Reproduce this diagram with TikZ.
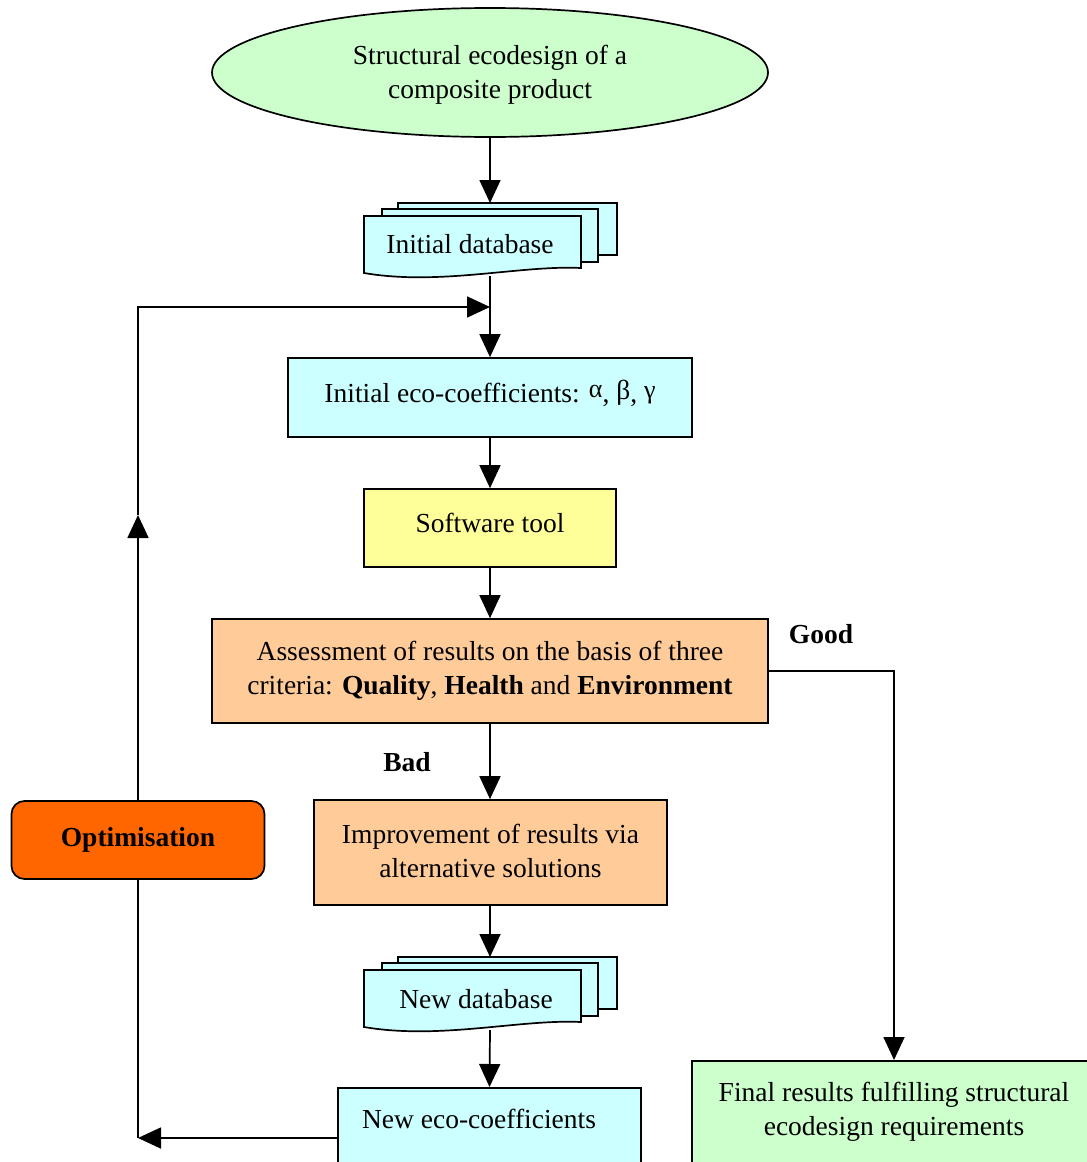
\documentclass[tikz,border=0pt]{standalone}
\usepackage{fontspec}
\setmainfont{Liberation Serif}
\usetikzlibrary{arrows.meta,shapes.geometric}
\definecolor{cgreen}{HTML}{CCFFCC}
\definecolor{ccyan}{HTML}{CCFFFF}
\definecolor{cyellow}{HTML}{FFFF99}
\definecolor{cpeach}{HTML}{FFCC99}
\definecolor{corange}{HTML}{FF6600}
\tikzset{
  every node/.style={font=\fontsize{27.5}{34}\selectfont, inner sep=0pt},
  outl/.style={draw=black, line width=1.7pt},
  boxn/.style={outl, rectangle, align=center},
  arr/.style={-{Triangle[length=23pt,width=21pt]}, line width=1.7pt},
  ln/.style={line width=1.7pt},
  lbl/.style={font=\fontsize{27.5}{34}\selectfont\bfseries}
}
\begin{document}
\begin{tikzpicture}[x=1pt,y=-1pt]
\useasboundingbox (0,0) rectangle (1087,1162);
\clip (0,0) rectangle (1087,1162);

% start ellipse
\node[outl, ellipse, fill=cgreen, minimum width=556, minimum height=129] (start) at (490,72.5) {};
\node[align=center] (starttext) at (490,75) {Structural ecodesign of a\\composite product};

% Initial database (multi-document)
\filldraw[outl, fill=ccyan] (398,203) rectangle (617,255);
\filldraw[outl, fill=ccyan] (382,209) rectangle (598,262);
\filldraw[outl, fill=ccyan] (364,216) -- (581,216) -- (581,268)
  .. controls (520,265) and (440,286) .. (364,273) -- cycle;
\node (idb) at (470,244) {Initial database};
\coordinate (idbtop) at (490,203);
\coordinate (idbbot) at (490,276);

% Initial eco-coefficients
\node[boxn, fill=ccyan, minimum width=404, minimum height=79] (ieco) at (490,397.5) {};
\node (iecotext) at (490,393)
  {Initial eco-coefficients: \raisebox{5pt}{\fontsize{26}{28}\selectfont α}, \raisebox{3pt}{β}, \raisebox{4pt}{\fontsize{26}{28}\selectfont γ}};

% Software tool
\node[boxn, fill=cyellow, minimum width=252, minimum height=78] (soft) at (490,528) {};
\node (softtext) at (490,523) {Software tool};

% Assessment
\node[boxn, fill=cpeach, minimum width=556, minimum height=104] (assess) at (490,671)
  {Assessment of results on the basis of three\\criteria: \textbf{Quality}, \textbf{Health} and \textbf{Environment}};

% Improvement
\node[boxn, fill=cpeach, minimum width=353, minimum height=105] (impr) at (490.5,852.5) {};
\node[align=center] (imprtext) at (490.5,851)
  {Improvement of results via\\alternative solutions};

% New database (multi-document)
\filldraw[outl, fill=ccyan] (398,957) rectangle (617,1009);
\filldraw[outl, fill=ccyan] (382,963) rectangle (598,1016);
\filldraw[outl, fill=ccyan] (364,970) -- (581,970) -- (581,1022)
  .. controls (520,1019) and (440,1040) .. (364,1027) -- cycle;
\node (ndb) at (476,999) {New database};
\coordinate (ndbtop) at (490,957);
\coordinate (ndbbot) at (490,1030);

% New eco-coefficients (cut off at bottom)
\node[boxn, fill=ccyan, minimum width=303, minimum height=90, anchor=north] (neco) at (489.5,1087) {};
\node (necotext) at (479,1119) {New eco-coefficients};
\coordinate (necoL) at (338,1138);

% Final results (cut off)
\node[boxn, fill=cgreen, minimum width=404, minimum height=102, anchor=north] (final) at (894,1060)
  {Final results fulfilling structural\\ecodesign requirements};

% Optimisation
\node[boxn, fill=corange, rounded corners=13pt, minimum width=253, minimum height=78, font=\fontsize{27.5}{34}\selectfont\bfseries] (opt) at (138,840) {Optimisation};

% labels
\node[lbl] (good) at (821,634) {Good};
\node[lbl] (bad) at (407,762) {Bad};

% coordinates for loop
\coordinate (join) at (490,307);
\coordinate (uptip) at (138,515);
\coordinate (topcorner) at (138,307);
\coordinate (botcorner) at (138,1138);

% main connectors
\draw[arr] (start.south) -- (idbtop);
\draw[arr] (idbbot) -- (ieco.north);
\draw[arr] (ieco.south) -- (soft.north);
\draw[arr] (soft.south) -- (assess.north);
\draw[arr] (assess.south) -- (impr.north -| assess.south);
\draw[arr] (impr.south -| assess.south) -- (ndbtop);
\draw[arr] (ndbbot) -- (neco.north);
\draw[arr] (assess.east) -| (final.north);

% feedback loop
\draw[arr] (necoL) -- (botcorner);
\draw[ln] (opt.south) -- (botcorner);
\draw[arr] (opt.north) -- (uptip);
\draw[arr] (uptip) -- (topcorner) -- (join);
\end{tikzpicture}
\end{document}
